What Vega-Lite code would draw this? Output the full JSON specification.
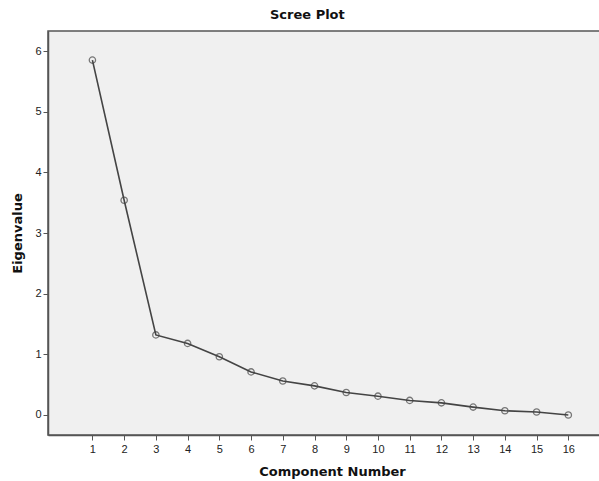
{
  "$schema": "https://vega.github.io/schema/vega-lite/v6.json",
  "autosize": {"type": "none"},
  "width": 553,
  "height": 404,
  "padding": {"left": 48, "top": 31, "right": 0, "bottom": 46},
  "background": "white",
  "title": {"text": "Scree Plot", "font": "DejaVu Sans", "fontSize": 13, "fontWeight": "bold", "color": "#111", "anchor": "start", "frame": "group", "offset": 9, "dx": 222},
  "config": {
    "view": {"fill": "#f0f0f0", "stroke": "#555", "strokeWidth": 1.5},
    "axis": {"labelFont": "Liberation Sans", "labelFontSize": 11, "labelColor": "#222", "titleFont": "DejaVu Sans", "titleFontSize": 13, "titleFontWeight": "bold", "titleColor": "#111", "grid": false, "domainColor": "#555", "tickColor": "#555", "tickSize": 5, "domainWidth": 1.5}
  },
  "data": {"values": [
    {"component": 1, "eigenvalue": 5.85},
    {"component": 2, "eigenvalue": 3.54},
    {"component": 3, "eigenvalue": 1.32},
    {"component": 4, "eigenvalue": 1.18},
    {"component": 5, "eigenvalue": 0.96},
    {"component": 6, "eigenvalue": 0.71},
    {"component": 7, "eigenvalue": 0.56},
    {"component": 8, "eigenvalue": 0.48},
    {"component": 9, "eigenvalue": 0.37},
    {"component": 10, "eigenvalue": 0.31},
    {"component": 11, "eigenvalue": 0.24},
    {"component": 12, "eigenvalue": 0.20},
    {"component": 13, "eigenvalue": 0.13},
    {"component": 14, "eigenvalue": 0.07},
    {"component": 15, "eigenvalue": 0.05},
    {"component": 16, "eigenvalue": 0.0}
  ]},
  "encoding": {
    "x": {"field": "component", "type": "quantitative", "title": "Component Number",
      "scale": {"domain": [-0.4, 17.03], "nice": false, "zero": false},
      "axis": {"values": [1,2,3,4,5,6,7,8,9,10,11,12,13,14,15,16], "labelPadding": 3, "titlePadding": 11, "labelFlush": false, "titleX": 284}},
    "y": {"field": "eigenvalue", "type": "quantitative", "title": "Eigenvalue",
      "scale": {"domain": [-0.33, 6.33], "nice": false, "zero": false},
      "axis": {"values": [0,1,2,3,4,5,6], "labelPadding": 2, "titlePadding": 10, "labelFlush": false}}
  },
  "layer": [
    {"mark": {"type": "line", "color": "#444", "strokeWidth": 1.6}},
    {"mark": {"type": "point", "filled": false, "color": "#444", "size": 40, "strokeWidth": 1.3}}
  ]
}
